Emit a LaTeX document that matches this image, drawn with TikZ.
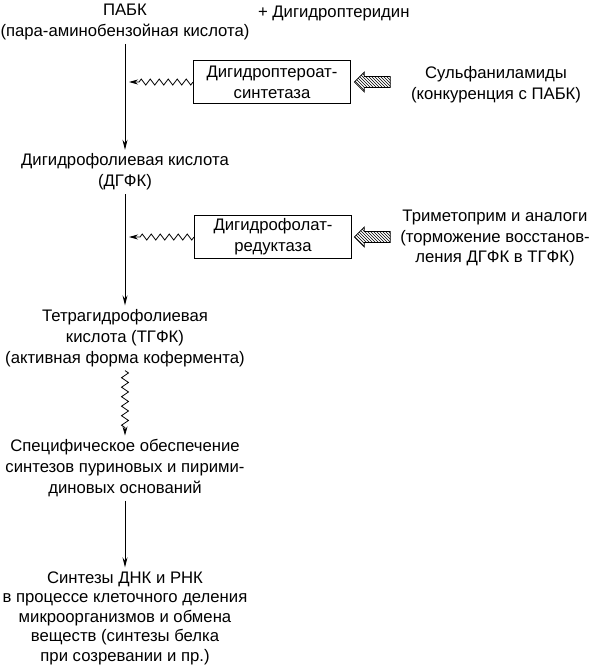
\documentclass[tikz,border=0pt]{standalone}
\usepackage{fontspec}
\setmainfont{Liberation Sans}
\usetikzlibrary{decorations.pathmorphing,patterns,shapes.arrows,arrows.meta}
\begin{document}
\begin{tikzpicture}[x=1pt, y=-1pt,
  texto/.style={align=center, inner sep=0pt, outer sep=4pt,
    font=\fontsize{16.7}{20.8}\selectfont},
  caja/.style={draw, line width=1pt, minimum width=157pt, minimum height=43pt,
    align=center, inner sep=2pt, font=\fontsize{16.7}{20.8}\selectfont},
  flecha/.style={line width=1pt, -{Stealth[length=10pt,width=5pt]}},
  onda/.style={line width=0.8pt, -{Stealth[length=9pt,width=5pt]}, decorate,
    decoration={zigzag, segment length=9pt, amplitude=3pt, post length=7pt}},
  bloqueo/.style={draw, line width=0.7pt, single arrow, shape border rotate=180,
    minimum height=36pt, minimum width=20pt, inner sep=5pt,
    single arrow head extend=4.5pt, pattern=north west lines}
]
\useasboundingbox (0,0) rectangle (591,665);
\coordinate (eje) at (125,0);

\node[texto] (pabk) at (125,22) {ПАБК\\(пара-аминобензойная кислота)};
\node[texto, anchor=base west] (ptr) at (254,17) {+ Дигидроптеридин};
\node[texto] (dgfk) at (125,172) {Дигидрофолиевая кислота\\(ДГФК)};
\node[texto] (tgfk) at (125,338) {Тетрагидрофолиевая\\кислота (ТГФК)\\(активная форма кофермента)};
\node[texto] (spec) at (125,468) {Специфическое обеспечение\\синтезов пуриновых и пирими-\\диновых оснований};
\node[texto, font=\fontsize{16.7}{19.5}\selectfont] (sint) at (125,618) {Синтезы ДНК и РНК\\в процессе клеточного деления\\микроорганизмов и обмена\\веществ (синтезы белка\\при созревании и пр.)};

\node[caja] (sint1) at (272,82) {Дигидроптероат-\\синтетаза};
\node[caja] (red1) at (273,237) {Дигидрофолат-\\редуктаза};

\node[texto] (sulf) at (496,85) {Сульфаниламиды\\(конкуренция с ПАБК)};
\node[texto] (trim) at (495,238) {Триметоприм и аналоги\\(торможение восстанов-\\ления ДГФК в ТГФК)};

\node[bloqueo] (bl1) at (375,82) {};
\node[bloqueo] (bl2) at (375,237) {};

\draw[flecha] (eje |- pabk.south) -- (eje |- dgfk.north);
\draw[flecha] (eje |- dgfk.south) -- (eje |- tgfk.north);
\draw[flecha] (eje |- spec.south) -- (eje |- sint.north);
\draw[onda, decoration={segment length=9.5pt, amplitude=3.5pt}] (eje |- tgfk.south) -- (eje |- spec.north);

\draw[onda] (sint1.west) -- ([xshift=4pt]eje |- sint1);
\draw[onda] (red1.west) -- ([xshift=4pt]eje |- red1);
\end{tikzpicture}
\end{document}
